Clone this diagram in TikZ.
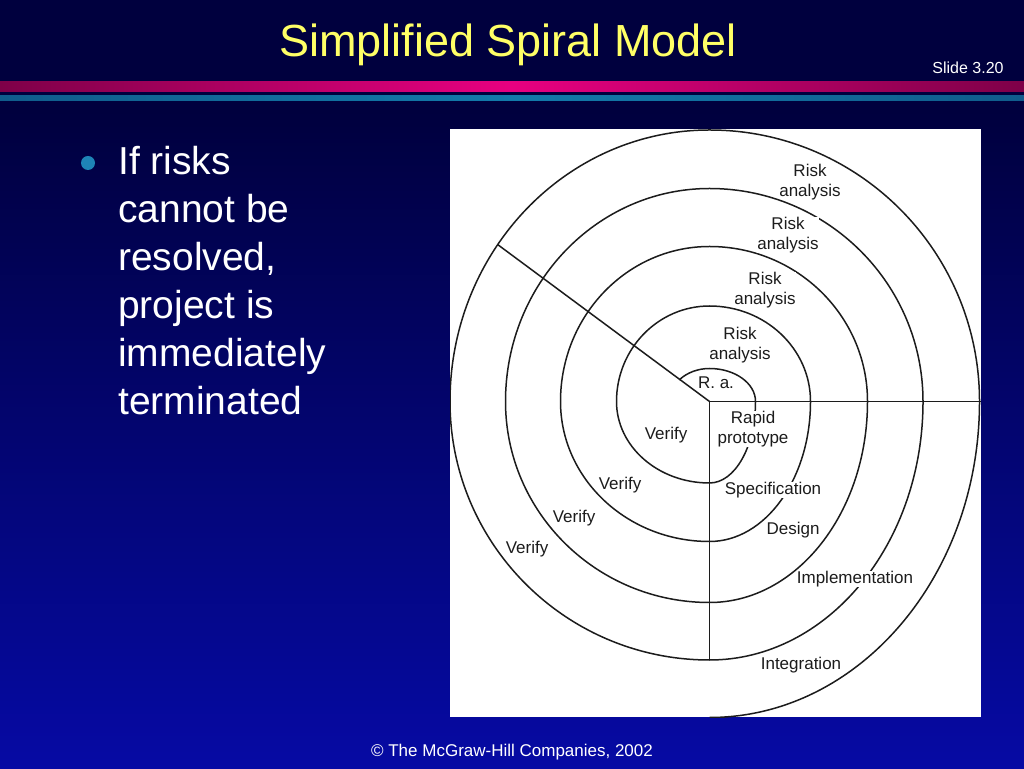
\documentclass[tikz,border=0pt]{standalone}
\usepackage{fontspec}
\setmainfont{Liberation Sans}

\definecolor{slidetop}{RGB}{0,0,62}
\definecolor{slidemiddle}{RGB}{0,8,132}
\definecolor{slidebottom}{RGB}{6,10,164}
\definecolor{titleyellow}{RGB}{255,255,102}
\definecolor{stripepink}{RGB}{232,0,128}
\definecolor{stripedark}{RGB}{126,0,72}
\definecolor{stripeteal}{RGB}{18,122,170}
\definecolor{stripetealdark}{RGB}{16,92,140}
\definecolor{bulletteal}{RGB}{30,132,182}
\definecolor{inkgray}{RGB}{28,28,28}

\begin{document}
\begin{tikzpicture}[
    x=1pt, y=1pt,
    spiral/.style={
        draw=inkgray,
        line width=1.5pt
    },
    phaselabel/.style={
        font=\fontsize{17}{20}\selectfont,
        text=inkgray,
        fill=white,
        inner sep=0.5pt,
        align=center
    },
    slidetitle/.style={
        font=\fontsize{45}{54}\selectfont,
        text=titleyellow
    },
    bullettext/.style={
        font=\fontsize{39}{48}\selectfont,
        text=white,
        align=left,
        inner sep=0pt
    },
    smallprint/.style={
        font=\fontsize{16}{19}\selectfont,
        text=white
    }
]

% ============================================================
% Slide background
% ============================================================
\useasboundingbox (0,0) rectangle (1024,768);
\fill[slidetop] (0,658) rectangle (1024,768);
\shade[top color=slidetop, middle color=slidemiddle, bottom color=slidebottom]
    (0,0) rectangle (1024,658);

% header stripes
\shade[left color=stripedark, right color=stripedark, middle color=stripepink]
    (0,676) rectangle (1024,686);
\shade[left color=stripetealdark, right color=stripetealdark, middle color=stripeteal]
    (0,667) rectangle (1024,672);

\node[slidetitle] (title) at (508,723) {Simplified Spiral Model};
\node[smallprint] (slideno) at (968,700) {Slide 3.20};
\node[smallprint, font=\fontsize{17}{20}\selectfont] (footer) at (512,16)
    {\textcopyright{} The McGraw-Hill Companies, 2002};

% ============================================================
% Bullet point
% ============================================================
\node[circle, fill=bulletteal, minimum size=14pt, inner sep=0pt] (dot) at (88,605) {};
\node[bullettext, anchor=north west] (point) at (118,622)
    {If risks\\cannot be\\resolved,\\project is\\immediately\\terminated};

% ============================================================
% Spiral figure
% ============================================================
\fill[white] (450,51) rectangle (981,639);

\coordinate (hub) at (709.5,366.5);
\path (hub) ++(144.7:259.5 and 271.5) coordinate (diag-end);
\coordinate (horiz-end) at (981,366.5);
\path (hub) ++(0,-258.5) coordinate (vert-end);

\begin{scope}
    \clip (450,51) rectangle (981,639);

    % one clockwise sweep per loop, quadrant by quadrant
    \draw[spiral] (hub) ++(139:40 and 33)
        arc[start angle=139, end angle=90,   x radius=40,    y radius=33]
        arc[start angle=90,  end angle=0,    x radius=46,    y radius=33]
        arc[start angle=0,   end angle=-90,  x radius=46,    y radius=81.5]
        arc[start angle=-90, end angle=-180, x radius=93,    y radius=81.5]
        arc[start angle=180, end angle=90,   x radius=93,    y radius=95.5]
        arc[start angle=90,  end angle=0,    x radius=101,   y radius=95.5]
        arc[start angle=0,   end angle=-90,  x radius=101,   y radius=140]
        arc[start angle=-90, end angle=-180, x radius=149,   y radius=140]
        arc[start angle=180, end angle=90,   x radius=149,   y radius=155]
        arc[start angle=90,  end angle=0,    x radius=158,   y radius=155]
        arc[start angle=0,   end angle=-90,  x radius=158,   y radius=201]
        arc[start angle=-90, end angle=-180, x radius=204,   y radius=201]
        arc[start angle=180, end angle=90,   x radius=204,   y radius=213]
        arc[start angle=90,  end angle=0,    x radius=213.5, y radius=213]
        arc[start angle=0,   end angle=-90,  x radius=213.5, y radius=258.5]
        arc[start angle=-90, end angle=-180, x radius=259.5, y radius=258.5]
        arc[start angle=180, end angle=90,   x radius=259.5, y radius=271.5]
        arc[start angle=90,  end angle=0,    x radius=270,   y radius=271.5]
        arc[start angle=0,   end angle=-90,  x radius=270,   y radius=316];

    % quadrant boundaries
    \draw[spiral] (hub) -- (diag-end);
    \draw[spiral] (hub) -- (horiz-end);
    \draw[spiral] (hub) -- (vert-end);
\end{scope}

% ------------------------------------------------------------
% Phase labels
% ------------------------------------------------------------
\node[phaselabel, fill=none] (risk-5) at (810,586) {Risk\\analysis};
\node[phaselabel] (risk-4) at (788,533) {Risk\\analysis};
\node[phaselabel] (risk-3) at (765,478) {Risk\\analysis};
\node[phaselabel] (risk-2) at (740,423) {Risk\\analysis};
\node[phaselabel] (risk-1) at (716,385) {R. a.};

\node[phaselabel] (rapid)  at (753,339) {Rapid\\prototype};
\node[phaselabel] (spec)   at (773,278) {Specification};
\node[phaselabel] (design) at (793,238) {Design};
\node[phaselabel] (impl)   at (855,189) {Implementation};
\node[phaselabel] (integ)  at (801,103) {Integration};

\node[phaselabel] (verify-1) at (666,333) {Verify};
\node[phaselabel] (verify-2) at (620,283) {Verify};
\node[phaselabel] (verify-3) at (574,250) {Verify};
\node[phaselabel] (verify-4) at (527,219) {Verify};

\end{tikzpicture}
\end{document}
